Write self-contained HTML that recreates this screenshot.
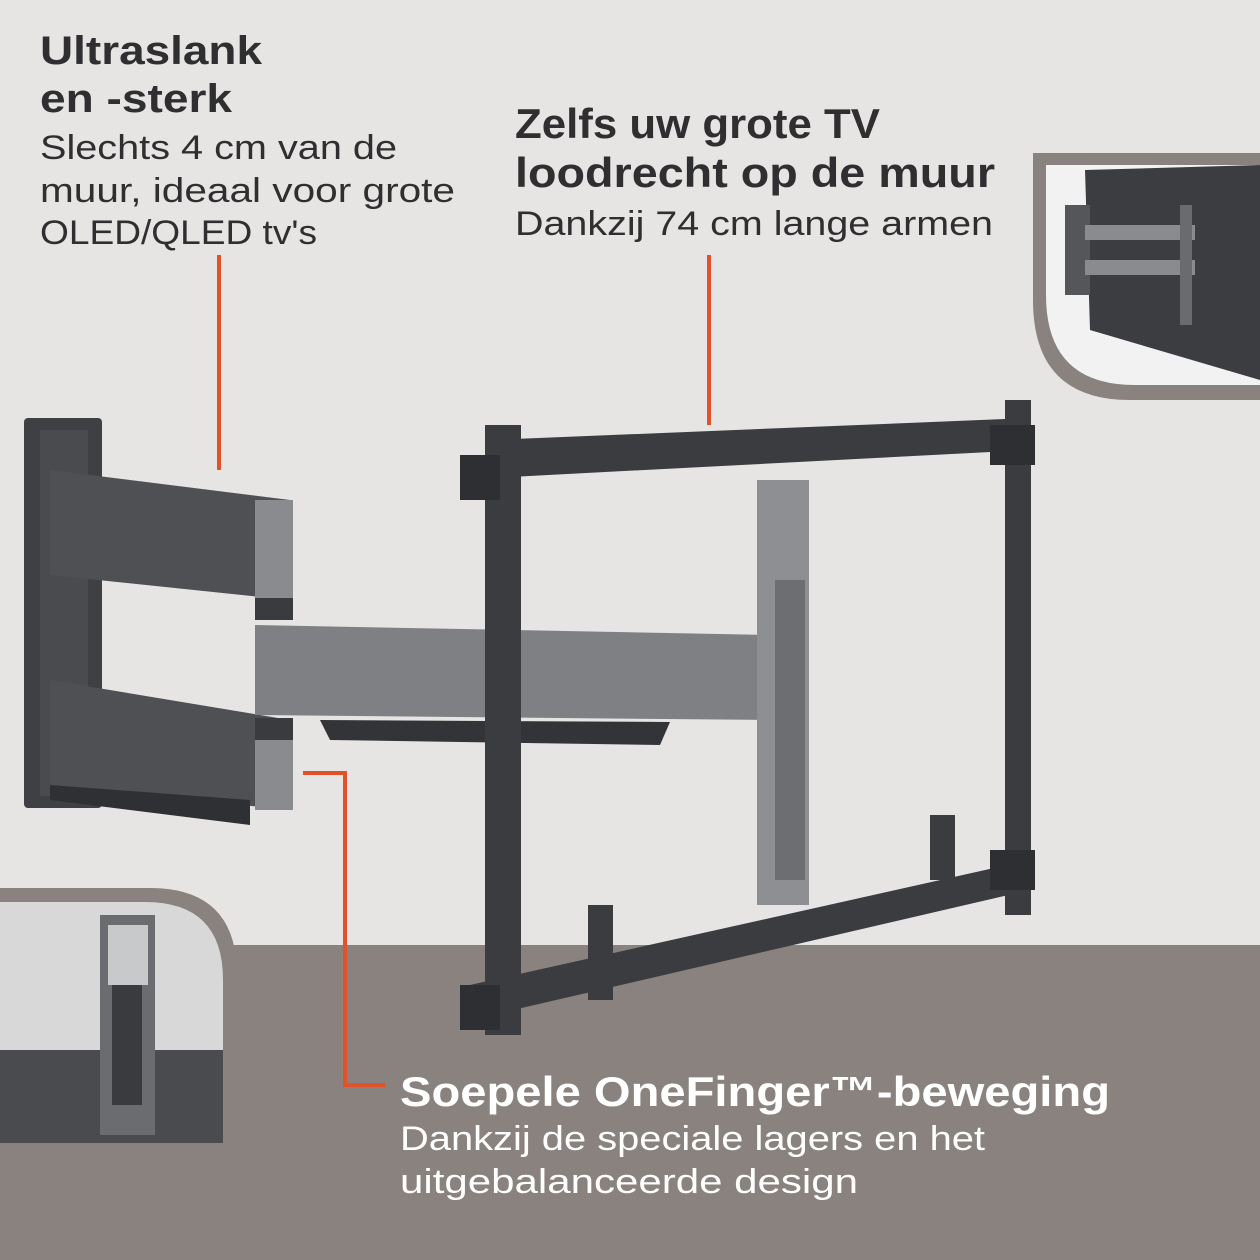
<!DOCTYPE html>
<html><head><meta charset="utf-8"><style>
html,body{margin:0;padding:0;width:1260px;height:1260px;overflow:hidden;background:#e7e5e3}
svg{display:block}
.b{font-family:"Liberation Sans",sans-serif;font-weight:bold}
.r{font-family:"Liberation Sans",sans-serif}
</style></head><body>
<svg width="1260" height="1260" viewBox="0 0 1260 1260">
<rect width="1260" height="1260" fill="#e7e5e3"/>
<rect y="945" width="1260" height="315" fill="#8a827e"/>
<path d="M1033 153 H1260 V400 H1130 Q1033 400 1033 300 Z" fill="#8a827e"/>
<path d="M1046 165 H1260 V385 H1135 Q1046 385 1046 295 Z" fill="#f2f2f2"/>
<polygon points="1085,170 1260,165 1260,380 1090,330" fill="#3c3d40"/>
<rect x="1065" y="205" width="25" height="90" fill="#55565a"/>
<rect x="1085" y="225" width="110" height="15" fill="#8a8b8e"/>
<rect x="1085" y="260" width="110" height="15" fill="#8a8b8e"/>
<rect x="1180" y="205" width="12" height="120" fill="#6a6b6e"/>
<path d="M0 888 H150 Q237 888 237 975 V1157 H0 Z" fill="#8a827e"/>
<path d="M0 902 H145 Q223 902 223 980 V1143 H0 Z" fill="#d8d8d8"/>
<rect x="0" y="1050" width="223" height="93" fill="#4a4b4e"/>
<rect x="100" y="915" width="55" height="220" fill="#6b6c70"/>
<rect x="108" y="925" width="40" height="60" fill="#c8c9cb"/>
<rect x="112" y="985" width="30" height="120" fill="#3a3b3e"/>
<rect x="24" y="418" width="78" height="390" rx="4" fill="#3f4044"/>
<rect x="40" y="430" width="48" height="366" fill="#4a4b4f"/>
<polygon points="50,470 290,500 290,600 50,575" fill="#4f5054"/>
<rect x="255" y="500" width="38" height="100" fill="#8a8b8e"/>
<rect x="255" y="598" width="38" height="22" fill="#3a3b3e"/>
<polygon points="50,680 290,720 290,810 50,785" fill="#4f5054"/>
<rect x="255" y="740" width="38" height="70" fill="#8a8b8e"/>
<rect x="255" y="718" width="38" height="22" fill="#3a3b3e"/>
<polygon points="50,785 250,800 250,825 50,800" fill="#2f3033"/>
<polygon points="255,625 770,635 770,720 255,715" fill="#7f8084"/>
<polygon points="320,720 670,722 660,745 330,740" fill="#333437"/>
<polygon points="490,440 1030,418 1030,450 490,478" fill="#3b3c40"/>
<polygon points="470,985 1030,860 1030,890 470,1020" fill="#3b3c40"/>
<rect x="485" y="425" width="36" height="610" fill="#3b3c40"/>
<rect x="1005" y="400" width="26" height="515" fill="#3b3c40"/>
<rect x="460" y="455" width="40" height="45" fill="#2e2f32"/>
<rect x="460" y="985" width="40" height="45" fill="#2e2f32"/>
<rect x="990" y="425" width="45" height="40" fill="#2e2f32"/>
<rect x="990" y="850" width="45" height="40" fill="#2e2f32"/>
<rect x="757" y="480" width="52" height="425" fill="#8e8f92"/>
<rect x="775" y="580" width="30" height="300" fill="#6d6e72"/>
<rect x="588" y="905" width="25" height="95" fill="#3b3c40"/>
<rect x="930" y="815" width="25" height="65" fill="#3b3c40"/>
<g stroke="#e0532a" stroke-width="4" fill="none">
<line x1="219" y1="255" x2="219" y2="470"/>
<line x1="709" y1="255" x2="709" y2="425"/>
<polyline points="303,773 345,773 345,1085 385,1085"/>
</g>
<g fill="#2f2f31">
<text class="b" x="40" y="64" font-size="40" textLength="222" lengthAdjust="spacingAndGlyphs">Ultraslank</text>
<text class="b" x="40" y="112" font-size="40" textLength="192" lengthAdjust="spacingAndGlyphs">en -sterk</text>
<text class="r" x="40" y="159" font-size="34" textLength="357" lengthAdjust="spacingAndGlyphs">Slechts 4 cm van de</text>
<text class="r" x="40" y="202" font-size="34" textLength="415" lengthAdjust="spacingAndGlyphs">muur, ideaal voor grote</text>
<text class="r" x="40" y="244" font-size="34" textLength="277" lengthAdjust="spacingAndGlyphs">OLED/QLED tv's</text>
<text class="b" x="515" y="138" font-size="42" textLength="365" lengthAdjust="spacingAndGlyphs">Zelfs uw grote TV</text>
<text class="b" x="515" y="187" font-size="42" textLength="480" lengthAdjust="spacingAndGlyphs">loodrecht op de muur</text>
<text class="r" x="515" y="235" font-size="34" textLength="478" lengthAdjust="spacingAndGlyphs">Dankzij 74 cm lange armen</text>
</g>
<g fill="#ffffff">
<text class="b" x="400" y="1106" font-size="42" textLength="710" lengthAdjust="spacingAndGlyphs">Soepele OneFinger™-beweging</text>
<text class="r" x="400" y="1150" font-size="34" textLength="585" lengthAdjust="spacingAndGlyphs">Dankzij de speciale lagers en het</text>
<text class="r" x="400" y="1193" font-size="34" textLength="458" lengthAdjust="spacingAndGlyphs">uitgebalanceerde design</text>
</g>
</svg>
</body></html>
